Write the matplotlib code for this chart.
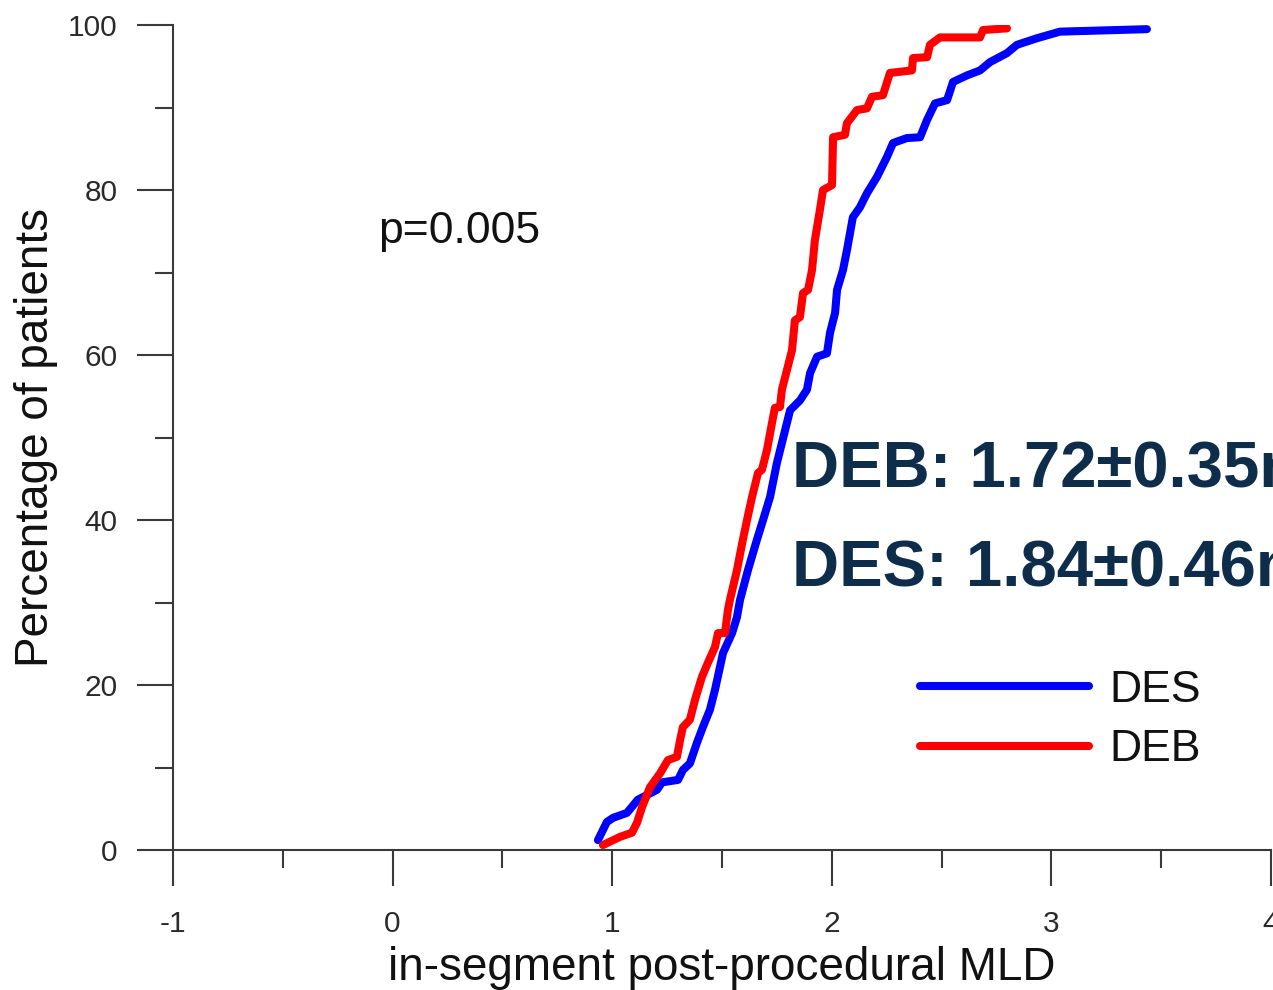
import numpy as np
import matplotlib
matplotlib.use("Agg")
import matplotlib.pyplot as plt
from matplotlib.ticker import MultipleLocator

# curve vertices (MLD, cumulative % of patients)
des_x = [0.935, 0.976, 1.004, 1.067, 1.117, 1.204, 1.227, 1.300, 1.322, 1.354,
         1.386, 1.413, 1.445, 1.468, 1.491, 1.505, 1.546, 1.568, 1.582, 1.618,
         1.659, 1.687, 1.719, 1.750, 1.796, 1.810, 1.855, 1.887, 1.901, 1.933,
         1.978, 1.992, 2.015, 2.024, 2.051, 2.069, 2.096, 2.128, 2.160, 2.206,
         2.251, 2.279, 2.342, 2.402, 2.434, 2.470, 2.525, 2.552, 2.616, 2.675,
         2.720, 2.798, 2.843, 2.934, 3.039, 3.435]
des_y = [1.2, 3.4, 3.9, 4.5, 6.1, 7.3, 8.2, 8.5, 9.7, 10.5,
         13.0, 14.9, 17.0, 19.4, 22.2, 23.9, 26.3, 28.2, 30.3, 33.9,
         37.6, 40.0, 42.8, 46.9, 51.8, 53.3, 54.5, 55.8, 57.8, 59.8,
         60.2, 62.7, 65.1, 67.9, 70.3, 72.7, 76.7, 77.9, 79.6, 81.6,
         84.0, 85.7, 86.3, 86.4, 88.5, 90.5, 90.9, 93.1, 93.9, 94.5,
         95.5, 96.6, 97.6, 98.4, 99.2, 99.5]

deb_x = [0.958, 1.036, 1.090, 1.113, 1.136, 1.172, 1.218, 1.254, 1.295, 1.309,
         1.322, 1.354, 1.377, 1.409, 1.436, 1.468, 1.482, 1.514, 1.527, 1.536,
         1.568, 1.595, 1.614, 1.637, 1.664, 1.682, 1.705, 1.728, 1.741, 1.764,
         1.773, 1.796, 1.819, 1.832, 1.855, 1.869, 1.892, 1.910, 1.923, 1.946,
         1.960, 2.001, 2.006, 2.060, 2.069, 2.115, 2.160, 2.183, 2.233, 2.265,
         2.365, 2.370, 2.434, 2.447, 2.493, 2.675, 2.689, 2.798]
deb_y = [0.6, 1.6, 2.1, 3.3, 5.2, 7.6, 9.3, 10.9, 11.3, 13.3,
         14.9, 15.8, 18.2, 21.0, 22.7, 24.6, 26.3, 26.3, 29.1, 30.3,
         33.9, 37.6, 40.0, 42.8, 45.7, 46.1, 48.5, 51.8, 53.6, 53.7,
         55.8, 58.2, 60.6, 64.2, 64.6, 67.5, 67.9, 70.3, 73.9, 77.6,
         80.0, 80.6, 86.4, 86.7, 88.1, 89.7, 89.9, 91.3, 91.5, 94.2,
         94.5, 96.0, 96.1, 97.6, 98.5, 98.5, 99.4, 99.6]

p_text = "p=0.005"
deb_stat = "DEB: 1.72\u00b10.35mm"
des_stat = "DES: 1.84\u00b10.46mm"

plt.rcParams['font.family'] = ['Liberation Sans', 'DejaVu Sans']
plt.rcParams['axes.unicode_minus'] = False
axis_col = '#3a3a3a'

fig = plt.figure(figsize=(12.73, 9.9), dpi=100)
ax = fig.add_axes([0.1359, 0.1414, 0.8625, 0.8333])

ax.plot(des_x, des_y, color='#0000ff', lw=5.8, solid_capstyle='round',
        solid_joinstyle='round', label='DES')
ax.plot(deb_x, deb_y, color='#ff0000', lw=5.8, solid_capstyle='round',
        solid_joinstyle='round', label='DEB')

ax.set_xlim(-1, 4)
ax.set_ylim(0, 100)
ax.xaxis.set_major_locator(MultipleLocator(1))
ax.xaxis.set_minor_locator(MultipleLocator(0.5))
ax.yaxis.set_major_locator(MultipleLocator(20))
ax.yaxis.set_minor_locator(MultipleLocator(10))

for s in ['top', 'right']:
    ax.spines[s].set_visible(False)
for s in ['left', 'bottom']:
    ax.spines[s].set_color(axis_col)
    ax.spines[s].set_linewidth(1.5)

ax.tick_params(which='major', direction='out', length=26, width=1.5,
               color=axis_col, labelsize=21.5, labelcolor='#2a2a2a')
ax.tick_params(which='minor', direction='out', length=13, width=1.5, color=axis_col)
ax.tick_params(axis='x', which='major', pad=17)
ax.tick_params(axis='y', which='major', pad=14)

ax.set_xlabel('in-segment post-procedural MLD', fontsize=33, labelpad=6, color='#111111')
ax.set_ylabel('Percentage of patients', fontsize=33, labelpad=7, color='#111111')

ax.text(-0.066, 73.6, p_text, fontsize=32, color='#111111', va='baseline')
ax.text(1.817, 43.9, deb_stat, fontsize=47, fontweight='bold', color='#0d2d4b', va='baseline')
ax.text(1.817, 31.9, des_stat, fontsize=47, fontweight='bold', color='#0d2d4b', va='baseline')

leg = ax.legend(loc='center left', bbox_to_anchor=(0.7227, 0.2728),
                bbox_transform=fig.transFigure, frameon=False, fontsize=32,
                handlelength=3.8, handletextpad=0.45, labelspacing=0.42,
                borderpad=0, borderaxespad=0)
for t in leg.get_texts():
    t.set_color('#111111')

fig.savefig('out.png', dpi=100)
